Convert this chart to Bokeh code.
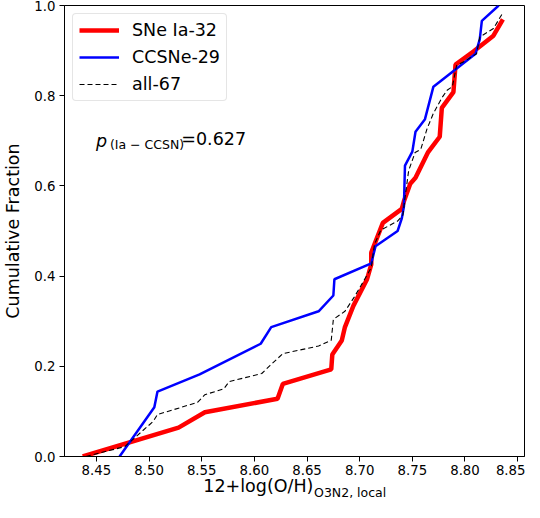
from bokeh.plotting import figure
from bokeh.models import (Range1d, FixedTicker, PrintfTickFormatter, Label, Legend,
                          LegendItem, LinearAxis)
from bokeh.embed import file_html
from bokeh.resources import INLINE

# ---- data ----
red_x = [8.437, 8.528, 8.553, 8.622, 8.627, 8.673, 8.674, 8.683, 8.686, 8.694, 8.707,
         8.711, 8.711, 8.722, 8.740, 8.742, 8.748, 8.753, 8.765, 8.776, 8.778, 8.789,
         8.791, 8.808, 8.827, 8.836]
red_y = [0.0, 0.064, 0.098, 0.128, 0.161, 0.193, 0.226, 0.257, 0.287, 0.334, 0.393,
         0.426, 0.452, 0.518, 0.549, 0.566, 0.605, 0.618, 0.675, 0.709, 0.773, 0.808,
         0.869, 0.898, 0.933, 0.969]

blue_x = [8.472, 8.505, 8.508, 8.548, 8.606, 8.616, 8.661, 8.675, 8.676, 8.711, 8.715,
          8.736, 8.740, 8.742, 8.743, 8.750, 8.753, 8.762, 8.770, 8.810, 8.814, 8.816,
          8.832]
blue_y = [0.0, 0.109, 0.144, 0.182, 0.250, 0.287, 0.322, 0.357, 0.393, 0.428, 0.466,
          0.500, 0.528, 0.554, 0.645, 0.676, 0.720, 0.748, 0.820, 0.893, 0.925, 0.966,
          1.0]

all_x = [8.440, 8.477, 8.504, 8.508, 8.546, 8.553, 8.571, 8.576, 8.607, 8.615, 8.627,
         8.661, 8.673, 8.675, 8.686, 8.695, 8.703, 8.711, 8.714, 8.720, 8.736, 8.741,
         8.743, 8.7465, 8.7526, 8.758, 8.764, 8.770, 8.778, 8.783, 8.788, 8.792, 8.800,
         8.811, 8.814, 8.827, 8.836]
all_y = [0.0, 0.022, 0.078, 0.093, 0.120, 0.137, 0.150, 0.166, 0.184, 0.202, 0.228,
         0.245, 0.258, 0.304, 0.322, 0.354, 0.386, 0.419, 0.470, 0.502, 0.522, 0.535,
         0.573, 0.634, 0.674, 0.681, 0.727, 0.761, 0.795, 0.812, 0.820, 0.867, 0.877,
         0.893, 0.930, 0.949, 0.984]

series_names = ["SNe Ia-32", "CCSNe-29", "all-67"]
x_ticks = [8.45, 8.50, 8.55, 8.60, 8.65, 8.70, 8.75, 8.80, 8.85]
y_ticks = [0.0, 0.2, 0.4, 0.6, 0.8, 1.0]
p_value_text = "=0.627"
p_sub_text = "(Ia \u2212 CCSN)"
x_label_main = "12+log(O/H)"
x_label_sub = "O3N2, local"
y_label = "Cumulative Fraction"

FONT = "DejaVu Sans"
XR = (8.4197, 8.8565)
NBSP = "\u00a0"

p = figure(width=525, height=502, output_backend="svg", toolbar_location=None,
           x_range=Range1d(*XR), y_range=Range1d(0.0, 1.0),
           min_border_left=54, min_border_right=1, min_border_top=5, min_border_bottom=0)

p.background_fill_color = "white"
p.border_fill_color = "white"
p.outline_line_color = "black"
p.outline_line_alpha = 1.0
p.outline_line_width = 1
p.xgrid.visible = False
p.ygrid.visible = False

for ax in (p.xaxis[0], p.yaxis[0]):
    ax.axis_line_color = "black"
    ax.major_tick_line_color = "black"
    ax.major_tick_in = 0
    ax.major_tick_out = 5
    ax.minor_tick_line_color = None
    ax.major_label_text_font = FONT
    ax.major_label_text_font_size = "13.3px"
    ax.major_label_text_color = "black"

p.xaxis.ticker = FixedTicker(ticks=x_ticks)
p.xaxis.formatter = PrintfTickFormatter(format="%.2f")
p.xaxis.major_label_standoff = 3
p.yaxis.ticker = FixedTicker(ticks=y_ticks)
p.yaxis.formatter = PrintfTickFormatter(format="%.1f")
p.yaxis.major_label_standoff = 4

# x label: main part (padded on the right so that it sits left of the subscript)
p.xaxis.axis_label = x_label_main + NBSP * 13
p.xaxis.axis_label_text_font = FONT
p.xaxis.axis_label_text_font_size = "17.5px"
p.xaxis.axis_label_text_font_style = "normal"
p.xaxis.axis_label_text_color = "black"
p.xaxis.axis_label_standoff = -2

# subscript part on a bare second axis, pulled up beside the main text
sub_axis = LinearAxis(ticker=FixedTicker(ticks=[]))
sub_axis.axis_line_color = None
sub_axis.major_tick_line_color = None
sub_axis.minor_tick_line_color = None
sub_axis.major_label_text_font_size = "0px"
sub_axis.axis_label = NBSP * 28 + x_label_sub
sub_axis.axis_label_text_font = FONT
sub_axis.axis_label_text_font_size = "12.5px"
sub_axis.axis_label_text_font_style = "normal"
sub_axis.axis_label_text_color = "black"
sub_axis.axis_label_standoff = -14
p.add_layout(sub_axis, "below")

p.yaxis.axis_label = y_label
p.yaxis.axis_label_text_font = FONT
p.yaxis.axis_label_text_font_size = "17.5px"
p.yaxis.axis_label_text_font_style = "normal"
p.yaxis.axis_label_text_color = "black"
p.yaxis.axis_label_standoff = 8

r_red = p.line(red_x, red_y, line_color="#ff0000", line_width=4.5)
r_blue = p.line(blue_x, blue_y, line_color="#0000ff", line_width=2.5)
r_all = p.line(all_x, all_y, line_color="black", line_width=1.1, line_dash="5 3")

legend = Legend(items=[LegendItem(label=series_names[0], renderers=[r_red]),
                       LegendItem(label=series_names[1], renderers=[r_blue]),
                       LegendItem(label=series_names[2], renderers=[r_all])])
legend.location = "top_left"
legend.margin = 8
legend.label_text_font = FONT
legend.label_text_font_size = "17.5px"
legend.label_text_color = "black"
legend.label_height = 20
legend.glyph_height = 20
legend.glyph_width = 40
legend.spacing = 7
legend.padding = 6
legend.label_standoff = 13
legend.border_line_color = "#cccccc"
legend.border_line_width = 1
legend.background_fill_alpha = 0.85
legend.border_radius = 4
p.add_layout(legend, "center")

# annotation p-value
p.add_layout(Label(x=8.4497, y=0.700, text="p", text_font=FONT, text_font_style="italic",
                   text_font_size="17.5px", text_color="black",
                   text_baseline="alphabetic", text_align="left"))
p.add_layout(Label(x=8.4628, y=0.692, text=p_sub_text, text_font=FONT,
                   text_font_size="12.5px", text_color="black",
                   text_baseline="alphabetic", text_align="left"))
p.add_layout(Label(x=8.5306, y=0.703, text=p_value_text, text_font=FONT,
                   text_font_size="17.5px", text_color="black",
                   text_baseline="alphabetic", text_align="left"))

open("out.html", "w").write(file_html(p, INLINE))
